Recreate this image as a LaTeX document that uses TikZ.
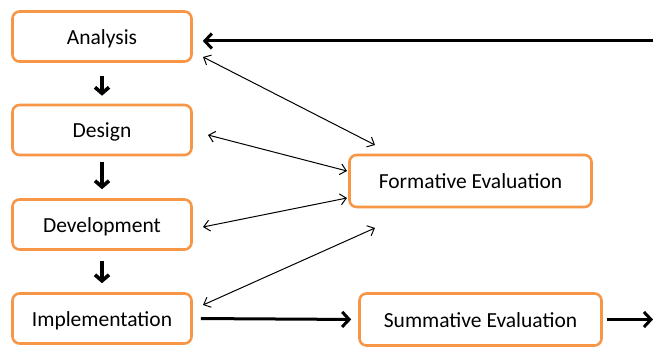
\documentclass[tikz,border=0pt]{standalone}
\usepackage{fontspec}
\setmainfont{Carlito}
\usetikzlibrary{arrows.meta}
\definecolor{boxorange}{HTML}{F79646}
\begin{document}
\begin{tikzpicture}[x=1pt,y=1pt,
  box/.style={draw=boxorange,line width=2.6pt,rounded corners=7pt,fill=white,
    inner sep=0pt,text height=18pt,text depth=2pt,font=\fontsize{21.5}{24}\selectfont},
  leftbox/.style={box,minimum width=179pt,minimum height=50pt},
  rightbox/.style={box,minimum width=242pt,minimum height=52pt},
  thick arrow/.style={line width=3pt,-{Straight Barb[length=7pt,width=15pt,line width=3pt]}},
  down arrow/.style={line width=3.4pt,-{Straight Barb[length=6pt,width=14pt,line width=3.6pt]}},
  thin arrow/.style={line width=1pt,{Straight Barb[length=6pt,width=11pt]}-{Straight Barb[length=6pt,width=11pt]}}]
\useasboundingbox (0,0) rectangle (653,-347);
\node[leftbox] (A) at (102,-36.5) {Analysis};
\node[leftbox] (D) at (102,-130) {Design};
\node[leftbox] (V) at (102,-224.5) {Development};
\node[leftbox] (I) at (102,-318.5) {Implementation};
\node[rightbox] (F) at (470.5,-181) {Formative Evaluation};
\node[rightbox] (S) at (480.5,-319.5) {Summative Evaluation};
% down arrows
\draw[down arrow,shorten <=13pt,shorten >=8pt] (A.south) -- (D.north);
\draw[down arrow,shorten <=6pt,shorten >=9pt] (D.south) -- (V.north);
\draw[down arrow,shorten <=10pt,shorten >=9pt] (V.south) -- (I.north);
% feedback arrow
\coordinate (R) at (653,-41);
\draw[thick arrow,shorten >=10pt] (R) -- (A.east |- R);
% thin arrows
\coordinate (a1) at (203,-57);
\coordinate (f1) at (375,-145);
\coordinate (d1) at (208,-135);
\coordinate (f2) at (347,-171);
\coordinate (v1) at (203,-227);
\coordinate (f3) at (347,-198);
\coordinate (i1) at (203,-305);
\coordinate (f4) at (375,-228);
\draw[thin arrow] (a1) -- (f1);
\draw[thin arrow] (d1) -- (f2);
\draw[thin arrow] (v1) -- (f3);
\draw[thin arrow] (i1) -- (f4);
% bottom arrows
\draw[thick arrow,shorten <=8pt,shorten >=7pt] (I.east) -- (S.west);
\coordinate (E) at (653,-319.5);
\draw[thick arrow,shorten <=4pt] (S.east) -- (E);
\end{tikzpicture}
\end{document}
